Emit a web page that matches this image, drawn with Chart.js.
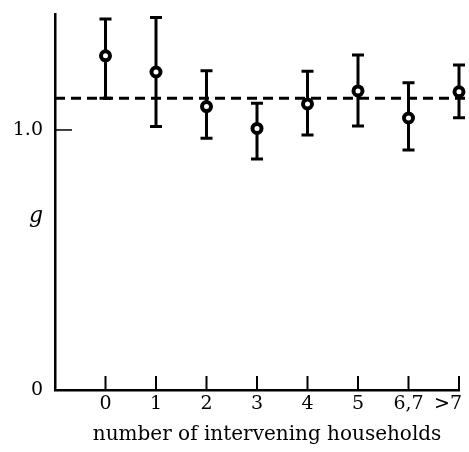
<!DOCTYPE html>
<html>
<head>
<meta charset="utf-8">
<script src="https://cdn.jsdelivr.net/npm/chart.js@4.4.1/dist/chart.umd.min.js"></script>
<style>
html,body{margin:0;padding:0;background:#fff;}
#wrap{width:469px;height:452px;}
</style>
</head>
<body>
<div id="wrap"><canvas id="grafico"></canvas></div>
<script>
// categorias no eixo x
var categorias = ['0', '1', '2', '3', '4', '5', '6,7', '>7'];
// g de cada categoria e os limites da barra de erro
var valores  = [1.285, 1.223, 1.090, 1.006, 1.100, 1.150, 1.046, 1.147];
var superior = [1.427, 1.433, 1.228, 1.103, 1.226, 1.288, 1.182, 1.250];
var inferior = [1.122, 1.013, 0.968, 0.888, 0.981, 1.015, 0.923, 1.047];
// linha tracejada
var nivel = 1.122;
// ticks do eixo y
var yTicks  = [0, 1.0, 0.67];
var yLabels = ['0', '1.0', 'g'];
var tituloX = 'number of intervening households';

var fonte = 'DejaVu Serif';

var pontos = valores.map(function(v, i){ return {x: i, y: v}; });

var extras = {
    id: 'extras',
    beforeDatasetsDraw: function(chart){
        var ctx = chart.ctx, x = chart.scales.x, y = chart.scales.y;
        ctx.save();
        ctx.strokeStyle = '#000';
        ctx.lineWidth = 3;
        ctx.beginPath();
        for (var i = 0; i < valores.length; i++) {
            var px = x.getPixelForValue(i);
            var top = y.getPixelForValue(superior[i]);
            var bot = y.getPixelForValue(inferior[i]);
            ctx.moveTo(px, top); ctx.lineTo(px, bot);
            ctx.moveTo(px - 6, top); ctx.lineTo(px + 6, top);
            ctx.moveTo(px - 6, bot); ctx.lineTo(px + 6, bot);
        }
        ctx.stroke();
        ctx.restore();
    },
    afterDraw: function(chart){
        var ctx = chart.ctx, x = chart.scales.x, y = chart.scales.y, a = chart.chartArea;
        ctx.save();
        ctx.strokeStyle = '#000';
        // ticks para dentro no eixo x
        ctx.lineWidth = 2;
        ctx.beginPath();
        categorias.forEach(function(c, i){
            var px = x.getPixelForValue(i);
            ctx.moveTo(px, a.bottom);
            ctx.lineTo(px, a.bottom - 14);
        });
        ctx.stroke();
        // tick do 1.0
        ctx.lineWidth = 1.5;
        var py = y.getPixelForValue(1);
        ctx.beginPath();
        ctx.moveTo(a.left, py);
        ctx.lineTo(a.left + 17, py);
        ctx.stroke();
        // rotulos do eixo x
        ctx.fillStyle = '#000';
        ctx.font = '19px "' + fonte + '"';
        ctx.textBaseline = 'middle';
        categorias.forEach(function(c, i){
            var px = x.getPixelForValue(i);
            if (i == categorias.length - 1) {
                ctx.textAlign = 'right';
                px += 3;
            } else {
                ctx.textAlign = 'center';
            }
            ctx.fillText(c, px, a.bottom + 14);
        });
        // titulo do eixo x
        ctx.font = '20px "' + fonte + '"';
        ctx.textAlign = 'center';
        ctx.fillText(tituloX, x.getPixelForValue(3.2), a.bottom + 45);
        ctx.restore();
    }
};

var contexto = document.getElementById('grafico').getContext('2d');

var grafico = new Chart(contexto, {
    type: 'scatter',
    data: {
        datasets: [{
            data: pontos,
            pointRadius: 4.5,
            pointHoverRadius: 4.5,
            pointBorderWidth: 4,
            pointBackgroundColor: '#fff',
            pointBorderColor: '#000',
            clip: false,
            order: 1
        }, {
            type: 'line',
            data: [{x: -1, y: nivel}, {x: 7.3, y: nivel}],
            borderColor: '#000',
            borderWidth: 3,
            borderDash: [10, 6],
            pointRadius: 0,
            fill: false,
            clip: false,
            order: 2
        }]
    },
    options: {
        responsive: true,
        maintainAspectRatio: false,
        animation: false,
        events: [],
        layout: {padding: {top: 14, right: 10, left: 0, bottom: 0}},
        plugins: {legend: {display: false}, tooltip: {enabled: false}},
        scales: {
            x: {
                type: 'linear',
                min: -1,
                max: 7,
                grid: {display: false, drawTicks: false},
                border: {display: true, width: 2.5, color: '#000'},
                ticks: {display: false, stepSize: 1},
                afterFit: function(s){ s.height = 62; s.paddingLeft = 0; s.paddingRight = 0; }
            },
            y: {
                min: 0,
                max: 1.446,
                grid: {display: false, drawTicks: false},
                border: {display: true, width: 2.5, color: '#000'},
                afterBuildTicks: function(s){
                    s.ticks = yTicks.map(function(v){ return {value: v}; });
                },
                ticks: {
                    padding: 12,
                    color: '#000',
                    callback: function(v){ return yLabels[yTicks.indexOf(v)]; },
                    font: function(c){
                        if (c.tick && c.tick.value == 0.67) return {family: fonte, size: 22, style: 'italic'};
                        return {family: fonte, size: 19};
                    }
                },
                afterFit: function(s){ s.width = 55; s.paddingTop = 0; s.paddingBottom = 0; }
            }
        }
    },
    plugins: [extras]
});
</script>
</body>
</html>
